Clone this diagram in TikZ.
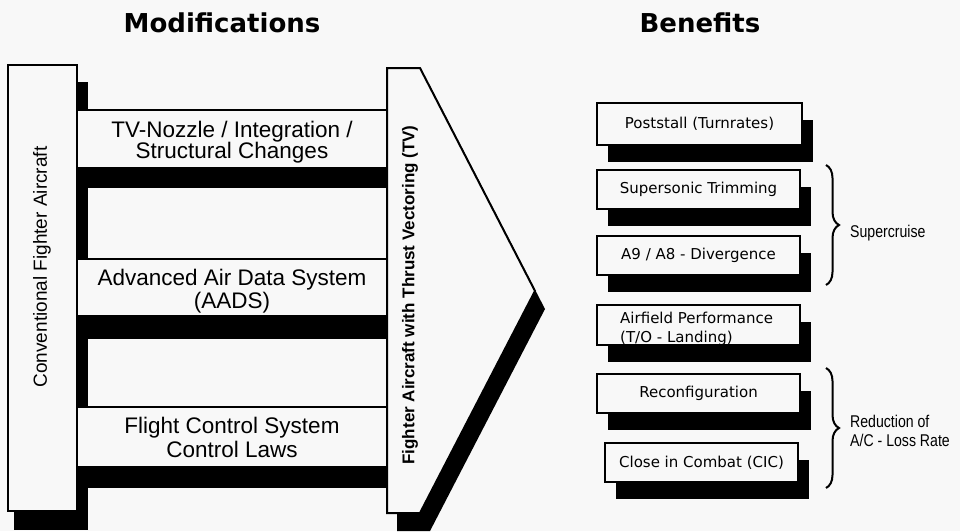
\documentclass[tikz,border=0pt]{standalone}
\usepackage{fontspec}
\setmainfont{Liberation Sans}
\newfontfamily\titlefont{DejaVu Sans}
\newfontfamily\benfont{DejaVu Sans}
\newfontfamily\narrowfont[FakeStretch=0.83]{Liberation Sans}
\usetikzlibrary{decorations.pathreplacing,shadows}
\definecolor{paper}{RGB}{248,248,248}
\begin{document}
\begin{tikzpicture}[x=1pt,y=-1pt,
  face/.style={fill=paper,draw=black,line width=2pt,line join=miter},
  beamface/.style={fill=paper,draw=black,line width=1.5pt},
  beamtext/.style={anchor=base,inner sep=0pt,font=\fontsize{22.5}{23}\selectfont},
  benefit/.style={draw=black,fill=paper,line width=2.5pt,inner sep=0pt,
    font=\benfont\fontsize{15}{19}\selectfont,
    drop shadow={shadow xshift=11pt,shadow yshift=-17pt,fill=black,opacity=1}},
  sidelabel/.style={anchor=base west,inner sep=0pt,font=\narrowfont\fontsize{17}{19}\selectfont},
  bracestyle/.style={line width=2pt,decorate,decoration={brace,amplitude=13pt}},
  titlestyle/.style={anchor=base,inner sep=0pt,font=\titlefont\bfseries\fontsize{26}{26}\selectfont}
]
\useasboundingbox (0,0) rectangle (960,531);
\fill[paper] (0,0) rectangle (960,531);

% shadows
\fill[black] (14,82) rectangle (88,530);
\fill[black] (87,130) rectangle (397,188);
\fill[black] (87,280) rectangle (397,339);
\fill[black] (87,430) rectangle (397,488);
\fill[black] (397,86) -- (430,86) -- (545,309) -- (430,531) -- (397,531) -- cycle;

% faces
\draw[face,line width=2.5pt] (8,65) rectangle (77,511);
\draw[beamface] (77,110) rectangle (387,168);
\draw[beamface] (77,259) rectangle (387,316);
\draw[beamface] (77,407) rectangle (387,467);
\draw[face] (387,68) -- (420,68) -- (535,291) -- (420,513) -- (387,513) -- cycle;

% titles
\node[titlestyle] (modt) at (222,32) {Modifications};
\node[titlestyle] (bent) at (700,32) {Benefits};

% vertical texts
\node[rotate=90,inner sep=0pt,font=\fontsize{19}{19}\selectfont] (conv) at (42,267) {Conventional Fighter Aircraft};
\node[rotate=90,inner sep=0pt,font=\bfseries\fontsize{17}{17}\selectfont] (tv) at (410,295) {Fighter Aircraft with Thrust Vectoring (TV)};

% beam texts
\node[beamtext] (m1a) at (232,137) {TV-Nozzle / Integration /};
\node[beamtext] (m1b) at (232,158) {Structural Changes};
\node[beamtext] (m2a) at (232,285) {Advanced Air Data System};
\node[beamtext] (m2b) at (232,308) {(AADS)};
\node[beamtext] (m3a) at (232,433) {Flight Control System};
\node[beamtext] (m3b) at (232,457) {Control Laws};

% benefits
\node[benefit,minimum width=205pt,minimum height=42pt] (post) at (699.5,124) {Poststall (Turnrates)};
\node[benefit,minimum width=203pt,minimum height=39pt] (super) at (698.5,189.5) {Supersonic Trimming};
\node[benefit,minimum width=203pt,minimum height=39pt] (div) at (698.5,255.5) {A9 / A8 - Divergence};
\node[benefit,minimum width=203pt,minimum height=40pt] (air) at (698.5,325) {};
\node[anchor=base west,inner sep=0pt,font=\benfont\fontsize{15}{19}\selectfont] (aira) at (620,323) {Airfield Performance};
\node[anchor=base west,inner sep=0pt,font=\benfont\fontsize{15}{19}\selectfont] (airb) at (620,342) {(T/O - Landing)};
\node[benefit,minimum width=203pt,minimum height=39pt] (reconf) at (698.5,393.5) {Reconfiguration};
\node[benefit,minimum width=193pt,minimum height=39pt] (cic) at (701.5,462.5) {Close in Combat (CIC)};

% braces
\coordinate (sctop) at (826,165);
\coordinate (scbot) at (826,285);
\coordinate (rdtop) at (826,368);
\coordinate (rdbot) at (826,488);
\draw[bracestyle] (sctop) -- (scbot);
\draw[bracestyle] (rdtop) -- (rdbot);
\node[sidelabel] (sc) at (850,237) {Supercruise};
\node[sidelabel] (rda) at (850,427) {Reduction of};
\node[sidelabel] (rdb) at (850,446) {A/C - Loss Rate};
\end{tikzpicture}
\end{document}
